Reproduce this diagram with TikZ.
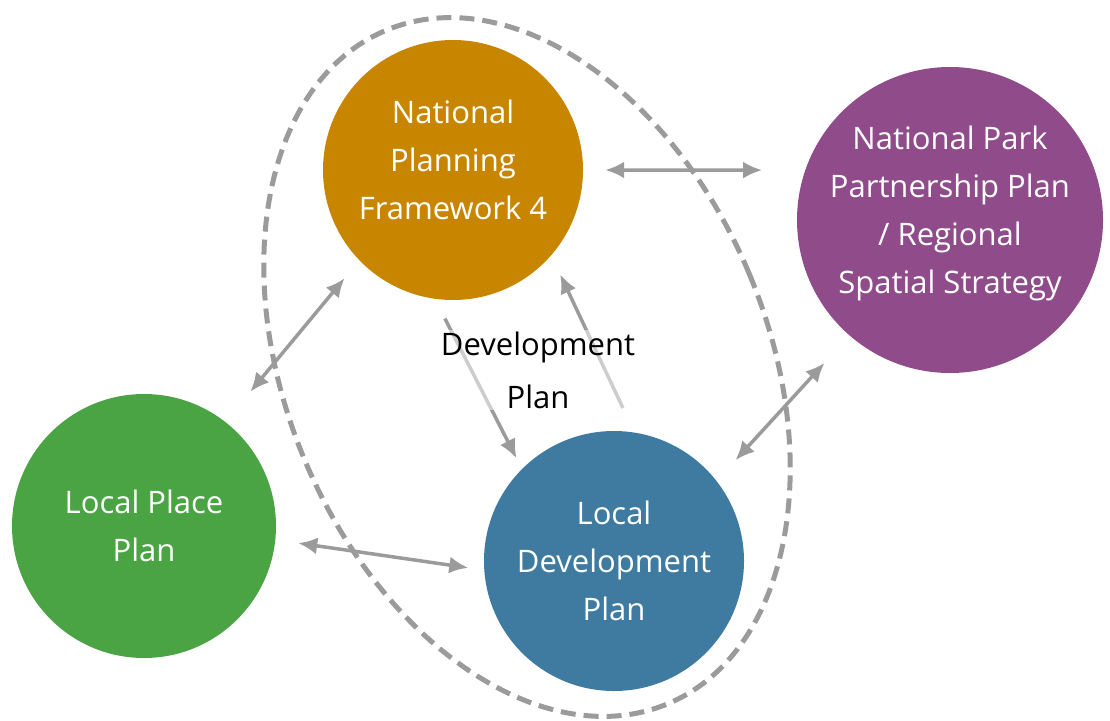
\documentclass[tikz,border=0pt]{standalone}
\usepackage{fontspec}
\setmainfont{Open Sans}
\usetikzlibrary{positioning,arrows.meta}
\definecolor{npfcol}{HTML}{C88600}
\definecolor{parkcol}{HTML}{8F4B8A}
\definecolor{ldpcol}{HTML}{3F7BA1}
\definecolor{lppcol}{HTML}{4BA443}
\definecolor{linegray}{HTML}{9B9B9B}

\begin{document}
\begin{tikzpicture}[x=1pt, y=-1pt, on grid,
    plan/.style = {circle, text=white, align=center, inner sep=0pt, font=\fontsize{31}{48}\selectfont},
    both/.style = {draw=linegray, line width=3.5pt, {Latex[length=19pt,width=17pt]}-{Latex[length=19pt,width=17pt]}},
    oneway/.style = {draw=linegray, line width=3.5pt, -{Latex[length=19pt,width=17pt]}},
    ringline/.style = {draw=linegray, line width=5pt, dash pattern=on 15pt off 8pt}]
    \useasboundingbox (0,0) rectangle (1110,720);
    \node[plan, fill=npfcol, minimum size=260pt, text depth=21pt] (npf) at (453,170) {National\\Planning\\Framework 4};
    \node[plan, fill=parkcol, minimum size=306pt, text depth=21pt] (park) [below right=50pt and 497pt of npf] {National Park\\Partnership Plan\\/ Regional\\Spatial Strategy};
    \node[plan, fill=ldpcol, minimum size=260pt] (ldp) [below right=391pt and 161pt of npf] {Local\\Development\\Plan};
    \node[plan, fill=lppcol, minimum size=264pt] (lpp) [below left=356pt and 309pt of npf] {Local Place\\Plan};
    \coordinate[below right=197pt and 74pt of npf] (ring);
    % dashed boundary of the development plan
    \draw[ringline, rotate around={22.7:(ring)}] (ring) ellipse [x radius=241pt, y radius=365pt];
    \draw[both, shorten <=22pt, shorten >=43pt] (npf.0) -- (park.161);
    \draw[both, shorten <=23pt, shorten >=39pt] (npf.224) -- (lpp.52);
    \draw[oneway, shorten <=22pt, shorten >=12pt] (npf.262) -- (ldp.135);
    \draw[oneway, shorten <=27pt, shorten >=21pt] (ldp.81) -- (npf.319);
    \draw[both, shorten <=23pt, shorten >=16pt] (lpp.354) -- (ldp.184);
    \draw[both, shorten <=28pt, shorten >=37pt] (ldp.38) -- (park.229);
    \node[align=center, fill=white, fill opacity=0.5, text opacity=1, inner sep=2pt, font=\fontsize{31}{53}\selectfont] (dev) [below right=200pt and 85pt of npf] {Development\\Plan};
\end{tikzpicture}
\end{document}
